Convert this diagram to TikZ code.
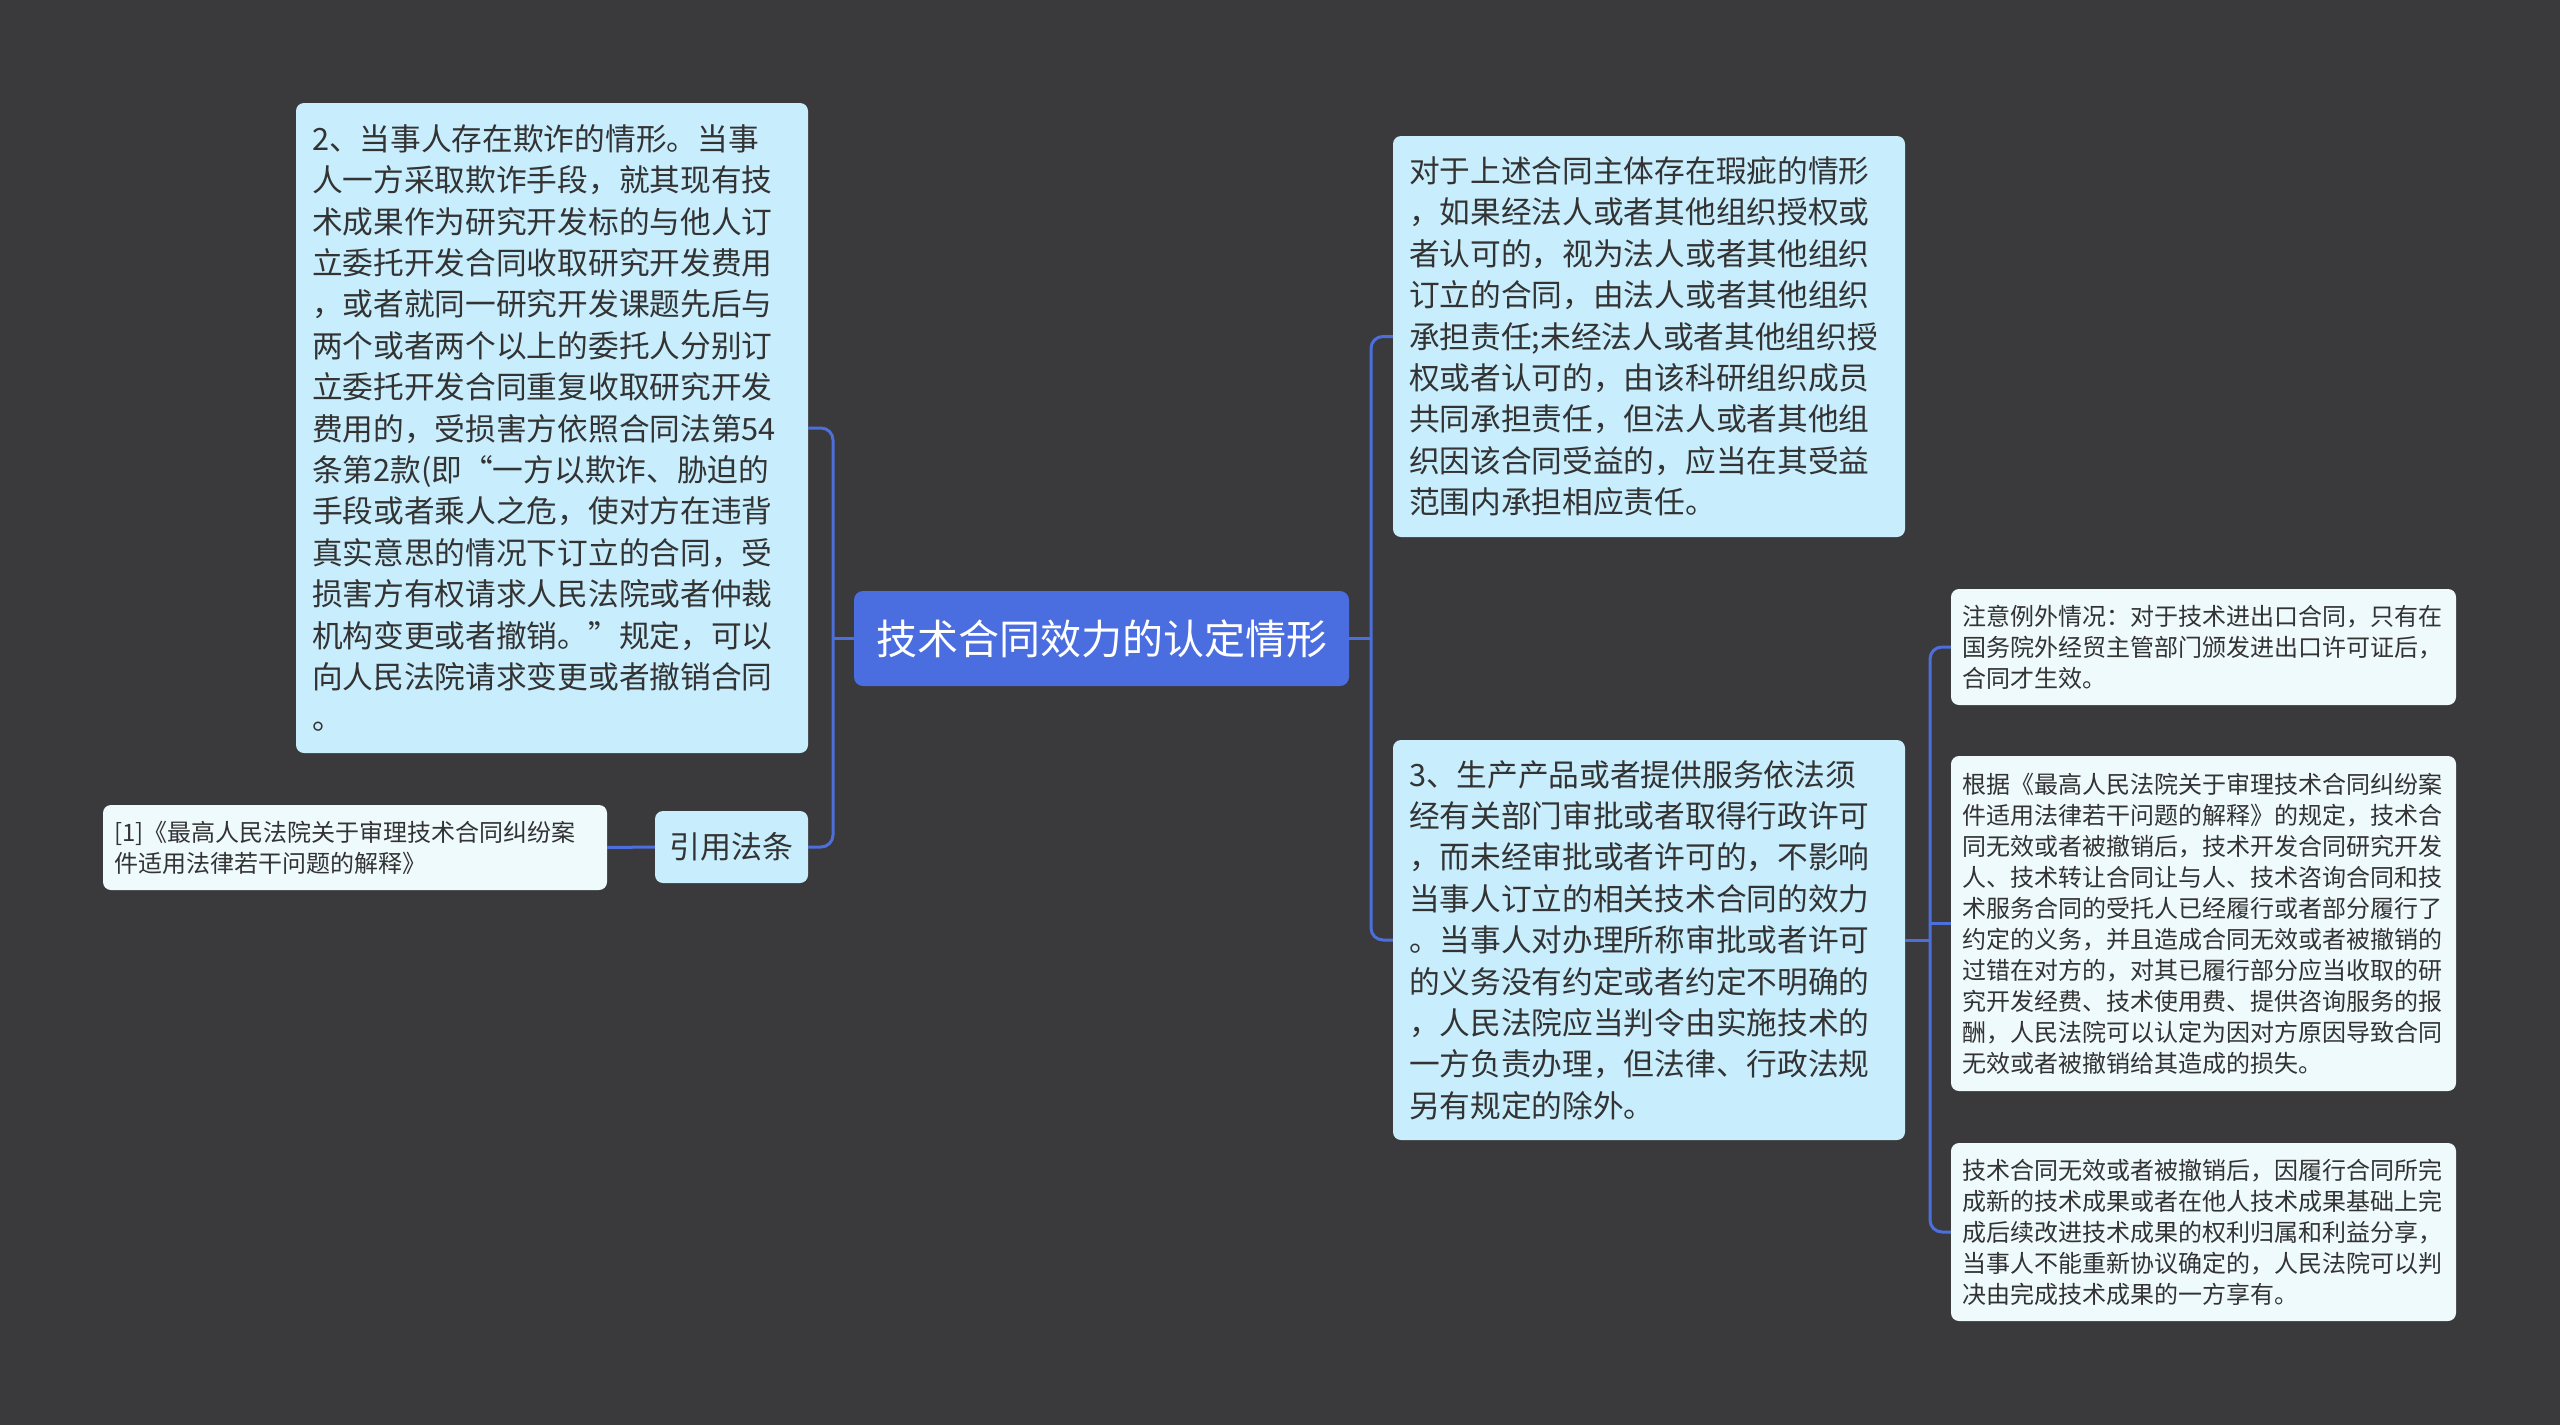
\documentclass[tikz,border=0pt]{standalone}
\usepackage{fontspec}
\setmainfont{Noto Sans CJK SC}
\definecolor{bgc}{HTML}{3A393B}
\definecolor{rootc}{HTML}{4A6DE0}
\definecolor{lvone}{HTML}{C8EDFC}
\definecolor{lvtwo}{HTML}{EFFAFD}
\definecolor{linec}{HTML}{4C6FDB}
\definecolor{txtc}{HTML}{333333}
\begin{document}
\begin{tikzpicture}[x=1pt,y=-1pt,
  rootbox/.style={fill=rootc, rounded corners=9pt, text=white, inner sep=0pt,
    minimum width=495pt, minimum height=95pt, font=\fontsize{41}{50}\selectfont},
  lvlone/.style={fill=lvone, rounded corners=8pt, text=txtc, inner xsep=16pt, inner ysep=0pt,
    align=left, font=\fontsize{30.7}{41.4}\selectfont},
  lvltwo/.style={fill=lvtwo, rounded corners=8pt, text=txtc, inner xsep=11pt, inner ysep=0pt,
    align=left, font=\fontsize{24}{31}\selectfont},
  conn/.style={draw=linec, line width=3pt, rounded corners=12pt}
]
\useasboundingbox[fill=bgc] (0,0) rectangle (2560,1425);

\node[rootbox] (root) at (1101.5,638.5) {技术合同效力的认定情形};

\node[lvlone, text width=480pt, minimum height=650pt] (A) at (552,428) {%
2、当事人存在欺诈的情形。当事\\
人一方采取欺诈手段，就其现有技\\
术成果作为研究开发标的与他人订\\
立委托开发合同收取研究开发费用\\
，或者就同一研究开发课题先后与\\
两个或者两个以上的委托人分别订\\
立委托开发合同重复收取研究开发\\
费用的，受损害方依照合同法第54\\
条第2款(即“一方以欺诈、胁迫的\\
手段或者乘人之危，使对方在违背\\
真实意思的情况下订立的合同，受\\
损害方有权请求人民法院或者仲裁\\
机构变更或者撤销。”规定，可以\\
向人民法院请求变更或者撤销合同\\
。};

\node[lvlone, align=center, inner xsep=0pt, minimum width=153pt, minimum height=72pt, font=\fontsize{31}{38}\selectfont] (law) at (731.5,847) {引用法条};

\node[lvltwo, text width=482pt, minimum height=85pt] (cite) at (355,847.5) {%
[1]《最高人民法院关于审理技术合同纠纷案\\
件适用法律若干问题的解释》};

\node[lvlone, text width=480pt, minimum height=401pt] (B) at (1649,336.5) {%
对于上述合同主体存在瑕疵的情形\\
，如果经法人或者其他组织授权或\\
者认可的，视为法人或者其他组织\\
订立的合同，由法人或者其他组织\\
承担责任;未经法人或者其他组织授\\
权或者认可的，由该科研组织成员\\
共同承担责任，但法人或者其他组\\
织因该合同受益的，应当在其受益\\
范围内承担相应责任。};

\node[lvlone, text width=480pt, minimum height=400pt] (C) at (1649,940) {%
3、生产产品或者提供服务依法须\\
经有关部门审批或者取得行政许可\\
，而未经审批或者许可的，不影响\\
当事人订立的相关技术合同的效力\\
。当事人对办理所称审批或者许可\\
的义务没有约定或者约定不明确的\\
，人民法院应当判令由实施技术的\\
一方负责办理，但法律、行政法规\\
另有规定的除外。};

\node[lvltwo, text width=483pt, minimum height=116pt] (D) at (2203.5,647) {%
注意例外情况：对于技术进出口合同，只有在\\
国务院外经贸主管部门颁发进出口许可证后，\\
合同才生效。};

\node[lvltwo, text width=483pt, minimum height=335pt] (E) at (2203.5,923.5) {%
根据《最高人民法院关于审理技术合同纠纷案\\
件适用法律若干问题的解释》的规定，技术合\\
同无效或者被撤销后，技术开发合同研究开发\\
人、技术转让合同让与人、技术咨询合同和技\\
术服务合同的受托人已经履行或者部分履行了\\
约定的义务，并且造成合同无效或者被撤销的\\
过错在对方的，对其已履行部分应当收取的研\\
究开发经费、技术使用费、提供咨询服务的报\\
酬，人民法院可以认定为因对方原因导致合同\\
无效或者被撤销给其造成的损失。};

\node[lvltwo, text width=483pt, minimum height=178pt] (F) at (2203.5,1232) {%
技术合同无效或者被撤销后，因履行合同所完\\
成新的技术成果或者在他人技术成果基础上完\\
成后续改进技术成果的权利归属和利益分享，\\
当事人不能重新协议确定的，人民法院可以判\\
决由完成技术成果的一方享有。};

\coordinate (lj) at (833,638.5);
\coordinate (rj) at (1371,638.5);
\coordinate (sj) at (1930,940);

\draw[conn] (root.west) -- (lj);
\draw[conn] (A.east) -| (lj |- law.east) -- (law.east);
\draw[conn] (law.west) -- (cite.east);
\draw[conn] (root.east) -- (rj);
\draw[conn] (B.west) -| (rj |- C.west) -- (C.west);
\draw[conn] (C.east) -- (sj);
\draw[conn] (D.west) -| (sj |- F.west) -- (F.west);
\draw[conn] (E.west) -- (E.west -| sj);
\end{tikzpicture}
\end{document}
